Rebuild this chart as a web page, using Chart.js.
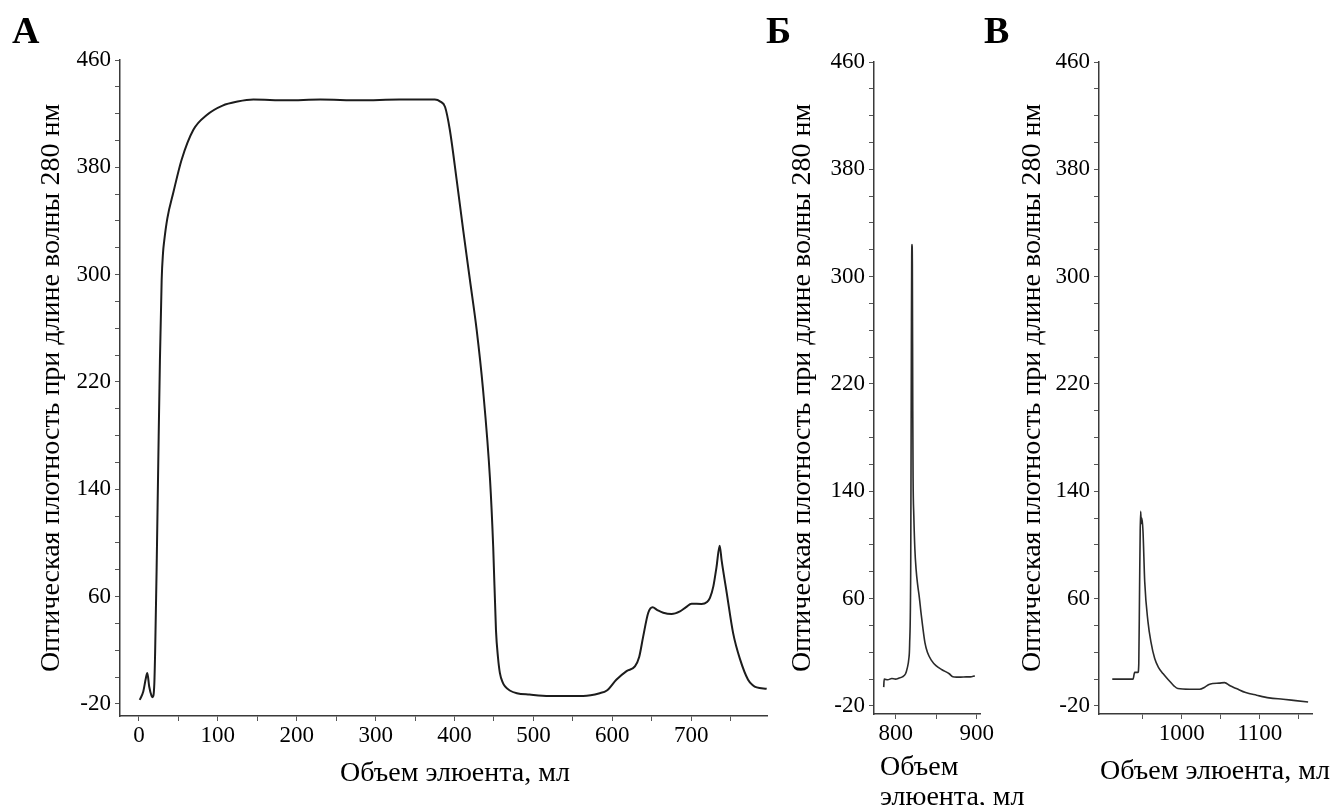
<!DOCTYPE html>
<html lang="ru">
<head>
<meta charset="utf-8">
<title>Оптическая плотность при длине волны 280 нм</title>
<script src="https://cdn.jsdelivr.net/npm/chart.js@4.4.1/dist/chart.umd.min.js"></script>
<style>
  html, body { margin: 0; padding: 0; background: #fff; overflow: hidden; }
  #page { position: relative; width: 1330px; height: 805px; overflow: hidden;
          font-family: 'Liberation Serif', 'Times New Roman', serif; color: #000; }
  #page canvas { position: absolute; left: 0; top: 0; }
  .letter { position: absolute; font-weight: bold; font-size: 38px; line-height: 38px; }
  .x-title { position: absolute; font-size: 28px; line-height: 33px; white-space: nowrap; }
</style>
</head>
<body>
<div id="page">
  <canvas id="chartA" width="1330" height="805"></canvas>
  <canvas id="chartB" width="1330" height="805"></canvas>
  <canvas id="chartC" width="1330" height="805"></canvas>

  <div class="letter" style="left:12px;top:11px">А</div>
  <div class="letter" style="left:766px;top:11px">Б</div>
  <div class="letter" style="left:984px;top:11px">В</div>

  <div class="x-title" style="left:340px;top:755px">Объем элюента, мл</div>
  <div class="x-title" style="left:880px;top:751px;line-height:30px">Объем<br>элюента, мл</div>
  <div class="x-title" style="left:1100px;top:753px">Объем элюента, мл</div>
</div>

<script>
// --- data: eluent volume (ml) vs absorbance at 280 nm ---
const volA = [1, 5.5, 8.9, 10.6, 13, 16, 17.5, 19.5, 20.5, 22.4, 24.5, 26.6, 28.8, 30.5, 32, 36, 43.5, 54, 69,
  86, 106, 125, 145, 187, 230, 280, 330, 375, 382, 388, 394, 402.6, 411, 419.5, 428, 436, 445, 449, 452.5,
  455, 457.5, 461, 464, 470, 479, 495, 520, 563, 584, 593, 605, 618, 628.6, 634, 639, 645.5, 651, 657, 664.5,
  675, 685.7, 693, 700.5, 713, 720, 723.7, 728, 732, 736, 738.5, 745, 753, 762, 772, 778, 783, 795.6];
const odA = [-17, -10.7, -0.5, 3, -7, -14, -15, -5, 18, 80, 160, 236, 296, 316, 325, 342, 361, 385.5, 408,
  419, 426, 429, 430.5, 430, 430.5, 430, 430.5, 430.5, 429, 425, 408, 371, 333, 296, 259, 215, 147, 97, 35,
  15, 3, -4, -7, -10, -12, -13, -14, -14, -12, -10, -2, 4.5, 8, 15, 30, 48, 52, 50, 48,
  47, 49, 52, 54.7, 54.5, 56, 59, 67.6, 82, 98, 87, 62.6, 33, 13, -2, -6, -7.7, -8.7];

const volB = [785, 785.6, 790, 795, 799.6, 804, 808, 812, 814, 816, 817, 818.4, 819.2, 819.6, 820, 820.4,
  820.9, 821.3, 822.2, 823.5, 825, 827, 829, 831, 833, 836, 839, 844, 849.6, 857, 866, 870.4, 875, 880, 887,
  892, 897.5];
const odB = [-6, 0, -0.5, 0.5, 0, 0.8, 1.7, 4, 8, 15, 25, 87, 250, 314, 324, 310,
  200, 150, 122, 97, 82, 70, 61, 50, 40, 27, 20, 14, 10, 7, 4, 1.7, 1.5, 1.5, 1.7,
  1.7, 2.4];

const volC = [911, 925, 937.6, 939.7, 944, 945, 946, 946.8, 947.4, 948.2, 949, 950.4, 952.6, 956.8, 960.5,
  965.4, 970, 976, 984.6, 990, 995, 1010, 1023, 1029.5, 1035, 1040, 1048, 1055, 1062, 1070, 1082, 1096,
  1112, 1130, 1146, 1162];
const odC = [0, 0, 0, 5, 5, 11.6, 67.6, 110, 125, 116, 120, 110, 72.6, 42.7, 28,
  15.3, 9, 4.1, -1.6, -5, -7, -7.5, -7.5, -6, -4, -3.3, -3, -2.6, -5, -7, -10, -12,
  -14, -15, -16, -17];

// ticks
const yTicks = [-20, 0, 20, 40, 60, 80, 100, 120, 140, 160, 180, 200, 220, 240, 260, 280, 300, 320, 340,
  360, 380, 400, 420, 440, 460];
const yLabels = [-20, 60, 140, 220, 300, 380, 460];
const xTicksA = [0, 50, 100, 150, 200, 250, 300, 350, 400, 450, 500, 550, 600, 650, 700, 750];
const xLabelsA = [0, 100, 200, 300, 400, 500, 600, 700];
const xTicksB = [800, 850, 900];
const xLabelsB = [800, 900];
const xTicksC = [950, 1000, 1050, 1100, 1150];
const xLabelsC = [1000, 1100];

const Y_TITLE = 'Оптическая плотность при длине волны 280 нм';

Chart.defaults.font.family = "'Liberation Serif', 'Times New Roman', serif";
Chart.defaults.color = '#000';

function drawPanel(id, vol, od, o) {
  const points = vol.map((v, i) => ({ x: v, y: od[i] }));
  return new Chart(document.getElementById(id), {
    type: 'line',
    data: {
      datasets: [{
        data: points,
        borderColor: o.lineColor,
        borderWidth: o.lineWidth,
        pointRadius: 0,
        fill: false,
        cubicInterpolationMode: 'monotone',
      }],
    },
    options: {
      responsive: false,
      animation: false,
      devicePixelRatio: 1,
      events: [],
      layout: { padding: o.padding },
      plugins: { legend: { display: false }, tooltip: { enabled: false } },
      scales: {
        x: {
          type: 'linear',
          min: o.xMin,
          max: o.xMax,
          afterBuildTicks: s => { s.ticks = o.xTicks.map(v => ({ value: v })); },
          afterFit: s => { s.height = 30; },
          ticks: {
            autoSkip: false,
            maxRotation: 0,
            padding: 1,
            font: { size: 23 },
            color: '#000',
            callback: v => o.xLabels.includes(v) ? String(v) : '',
          },
          grid: { drawOnChartArea: false, tickLength: 5, color: '#555', lineWidth: 1 },
          border: { color: '#3a3a3a', width: 1.5 },
        },
        y: {
          type: 'linear',
          min: o.yMin,
          max: 460,
          afterBuildTicks: s => { s.ticks = yTicks.map(v => ({ value: v })); },
          afterFit: s => { s.width = o.yWidth; },
          ticks: {
            autoSkip: false,
            padding: 4,
            font: { size: 23 },
            color: '#000',
            callback: v => yLabels.includes(v) ? String(v) : '',
          },
          grid: { drawOnChartArea: false, tickLength: 5, color: '#555', lineWidth: 1 },
          border: { color: '#3a3a3a', width: 1.5 },
          title: {
            display: true,
            text: Y_TITLE,
            color: '#000',
            font: { size: 28 },
            padding: { top: 3, bottom: 3 },
          },
        },
      },
    },
  });
}

// А: 0–800 ml, plot box 120..767 x 60..716
drawPanel('chartA', volA, odA, {
  xMin: -24, xMax: 796, yMin: -29,
  xTicks: xTicksA, xLabels: xLabelsA,
  yWidth: 88,
  padding: { left: 32, right: 563, top: 60, bottom: 59 },
  lineColor: '#1c1c1c', lineWidth: 2,
});

// Б: 773–904 ml, plot box 874..980 x 62..714
drawPanel('chartB', volB, odB, {
  xMin: 773, xMax: 904, yMin: -26,
  xTicks: xTicksB, xLabels: xLabelsB,
  yWidth: 91,
  padding: { left: 783, right: 350, top: 62, bottom: 61 },
  lineColor: '#2a2a2a', lineWidth: 1.6,
});

// В: 894–1167 ml, plot box 1099..1312 x 62..714
drawPanel('chartC', volC, odC, {
  xMin: 894, xMax: 1167, yMin: -26,
  xTicks: xTicksC, xLabels: xLabelsC,
  yWidth: 86,
  padding: { left: 1013, right: 18, top: 62, bottom: 61 },
  lineColor: '#2a2a2a', lineWidth: 1.6,
});
</script>
</body>
</html>
